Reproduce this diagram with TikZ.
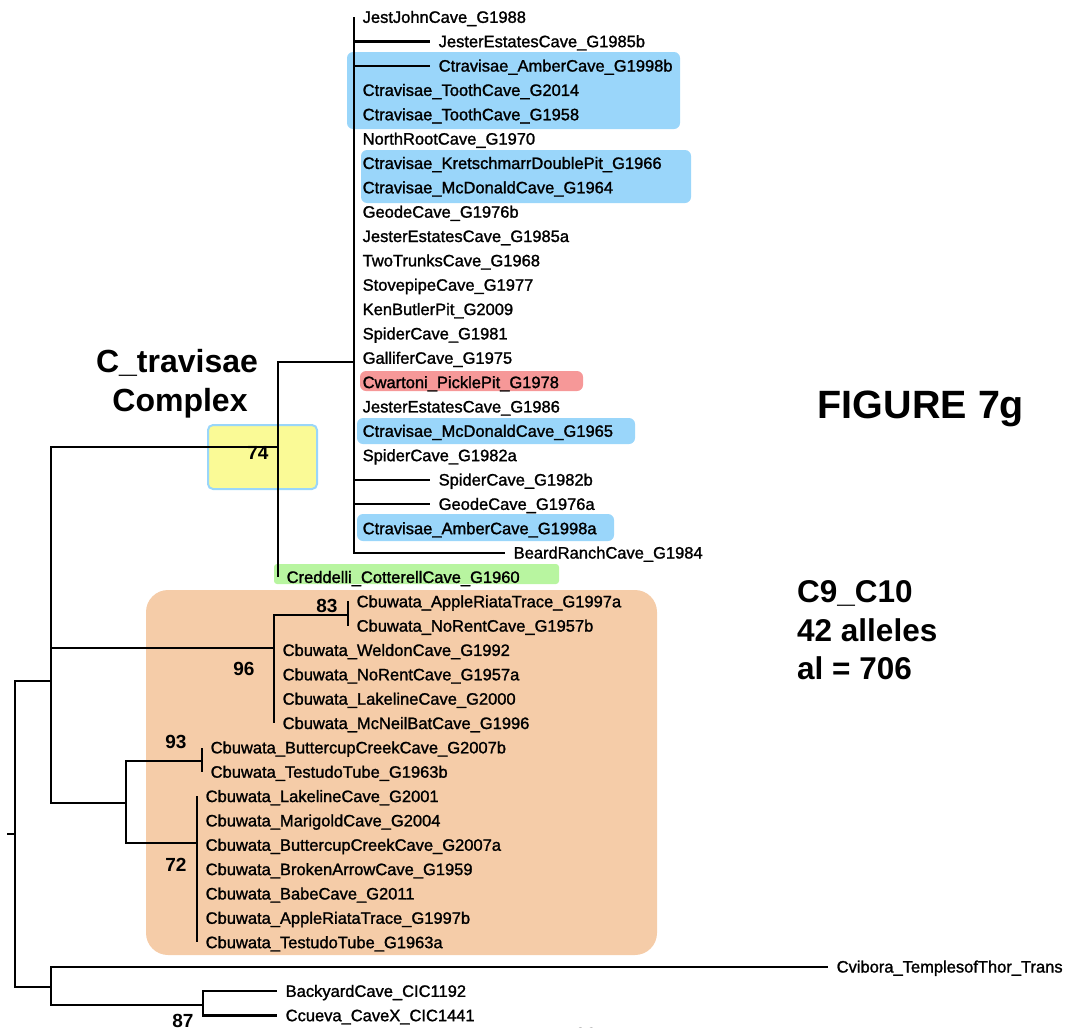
\documentclass[tikz,border=0pt]{standalone}
\usepackage{fontspec}
\setmainfont{Liberation Sans}
\newfontfamily\leaffont[FakeBold=1.4]{Liberation Sans}
\definecolor{hlblue}{RGB}{154,214,250}
\definecolor{hlred}{RGB}{246,152,152}
\definecolor{hlgreen}{RGB}{184,245,160}
\definecolor{hlyellow}{RGB}{250,250,150}
\definecolor{hlorange}{RGB}{245,204,168}
\begin{document}
\begin{tikzpicture}[x=1pt,y=-1pt,
  branch/.style={line width=2.3pt, line join=miter},
  leaf/.style={anchor=west, inner xsep=8.5pt, inner ysep=0pt,
    text height=11.7pt, text depth=0pt,
    font=\leaffont\fontsize{16.5}{18}\selectfont},
  boot/.style={anchor=base, inner sep=0pt, font=\bfseries\fontsize{19}{20}\selectfont},
  hl/.style={rounded corners=6pt},
  big/.style={inner sep=0pt, font=\bfseries\fontsize{32}{39}\selectfont}
]
\useasboundingbox (0,0) rectangle (1080,1028);

% highlight panels behind the tree
\fill[hlorange, rounded corners=22pt] (146,590) rectangle (657,955);
\fill[hlblue, hl] (347,52) rectangle (680,129);
\fill[hlblue, hl] (361,150) rectangle (691,203);
\fill[hlred, hl] (360,371) rectangle (583,391);
\fill[hlblue, hl] (357,418) rectangle (635,444);
\fill[hlblue, hl] (357,514) rectangle (614,541);
\fill[hlgreen, rounded corners=3pt] (274,564) rectangle (559,584);
\filldraw[fill=hlyellow, draw=hlblue, line width=2pt, rounded corners=5pt] (208,425) rectangle (317,489);

% internal nodes
\coordinate (stub) at (7,834);
\coordinate (root) at (15,834);
\coordinate (nA) at (51,681);
\coordinate (nI) at (51,987);
\coordinate (nB) at (278,447);
\coordinate (nC) at (354,362);
\coordinate (nD) at (274,648);
\coordinate (nE) at (348,615);
\coordinate (nF) at (126,803);
\coordinate (nG) at (202,761);
\coordinate (nH) at (197,843);
\coordinate (nJ) at (203,1005);

\draw[branch] (stub) -- (root);
\draw[branch] (root) |- (nA);
\draw[branch] (root) |- (nI);
\draw[branch] (nA) |- (nB);
\draw[branch] (nA) |- (nD);
\draw[branch] (nA) |- (nF);
\draw[branch] (nB) |- (nC);
\draw[branch] (nD) |- (nE);
\draw[branch] (nF) |- (nG);
\draw[branch] (nF) |- (nH);
\draw[branch] (nI) |- (nJ);

% leaves: row / tip x / label / parent
\foreach \r/\x/\t/\p in {
  0/354/JestJohnCave\_G1988/nC,
  1/430/JesterEstatesCave\_G1985b/nC,
  2/430/Ctravisae\_AmberCave\_G1998b/nC,
  3/354/Ctravisae\_ToothCave\_G2014/nC,
  4/354/Ctravisae\_ToothCave\_G1958/nC,
  5/354/NorthRootCave\_G1970/nC,
  6/354/Ctravisae\_KretschmarrDoublePit\_G1966/nC,
  7/354/Ctravisae\_McDonaldCave\_G1964/nC,
  8/354/GeodeCave\_G1976b/nC,
  9/354/JesterEstatesCave\_G1985a/nC,
  10/354/TwoTrunksCave\_G1968/nC,
  11/354/StovepipeCave\_G1977/nC,
  12/354/KenButlerPit\_G2009/nC,
  13/354/SpiderCave\_G1981/nC,
  14/354/GalliferCave\_G1975/nC,
  15/354/Cwartoni\_PicklePit\_G1978/nC,
  16/354/JesterEstatesCave\_G1986/nC,
  17/354/Ctravisae\_McDonaldCave\_G1965/nC,
  18/354/SpiderCave\_G1982a/nC,
  19/430/SpiderCave\_G1982b/nC,
  20/430/GeodeCave\_G1976a/nC,
  21/354/Ctravisae\_AmberCave\_G1998a/nC,
  22/505/BeardRanchCave\_G1984/nC,
  23/278/Creddelli\_CotterellCave\_G1960/nB,
  24/348/Cbuwata\_AppleRiataTrace\_G1997a/nE,
  25/348/Cbuwata\_NoRentCave\_G1957b/nE,
  26/274/Cbuwata\_WeldonCave\_G1992/nD,
  27/274/Cbuwata\_NoRentCave\_G1957a/nD,
  28/274/Cbuwata\_LakelineCave\_G2000/nD,
  29/274/Cbuwata\_McNeilBatCave\_G1996/nD,
  30/202/Cbuwata\_ButtercupCreekCave\_G2007b/nG,
  31/202/Cbuwata\_TestudoTube\_G1963b/nG,
  32/197/Cbuwata\_LakelineCave\_G2001/nH,
  33/197/Cbuwata\_MarigoldCave\_G2004/nH,
  34/197/Cbuwata\_ButtercupCreekCave\_G2007a/nH,
  35/197/Cbuwata\_BrokenArrowCave\_G1959/nH,
  36/197/Cbuwata\_BabeCave\_G2011/nH,
  37/197/Cbuwata\_AppleRiataTrace\_G1997b/nH,
  38/197/Cbuwata\_TestudoTube\_G1963a/nH,
  39/828/Cvibora\_TemplesofThor\_Trans/nI,
  40/277/BackyardCave\_CIC1192/nJ,
  41/277/Ccueva\_CaveX\_CIC1441/nJ}
{
  \pgfmathsetmacro\yy{17+24.35*\r}
  \node[leaf] (l\r) at (\x,\yy) {\t};
  \draw[branch] (\p) |- (l\r.west);
}

% bootstrap support values
\node[boot] (b74) at (258,459) {74};
\node[boot] (b83) at (327,612) {83};
\node[boot] (b96) at (244,675) {96};
\node[boot] (b93) at (176,748) {93};
\node[boot] (b72) at (176,871) {72};
\node[boot] (b87) at (183,1027) {87};
\node[boot] (b90) at (586,1041) {90};

% titles and annotations
\node[big, anchor=base] (cx1) at (177,372) {C\_travisae};
\node[big, anchor=base] (cx2) at (180,411) {Complex};
\node[inner sep=0pt, anchor=base, font=\bfseries\fontsize{39.5}{44}\selectfont] (fig) at (921,418) {FIGURE 7g};
\node[big, anchor=base west, font=\bfseries\fontsize{31.5}{38}\selectfont] (s1) at (797,602) {C9\_C10};
\node[big, anchor=base west, font=\bfseries\fontsize{31.5}{38}\selectfont] (s2) at (797,641) {42 alleles};
\node[big, anchor=base west, font=\bfseries\fontsize{31.5}{38}\selectfont] (s3) at (797,679) {al = 706};
\end{tikzpicture}
\end{document}
